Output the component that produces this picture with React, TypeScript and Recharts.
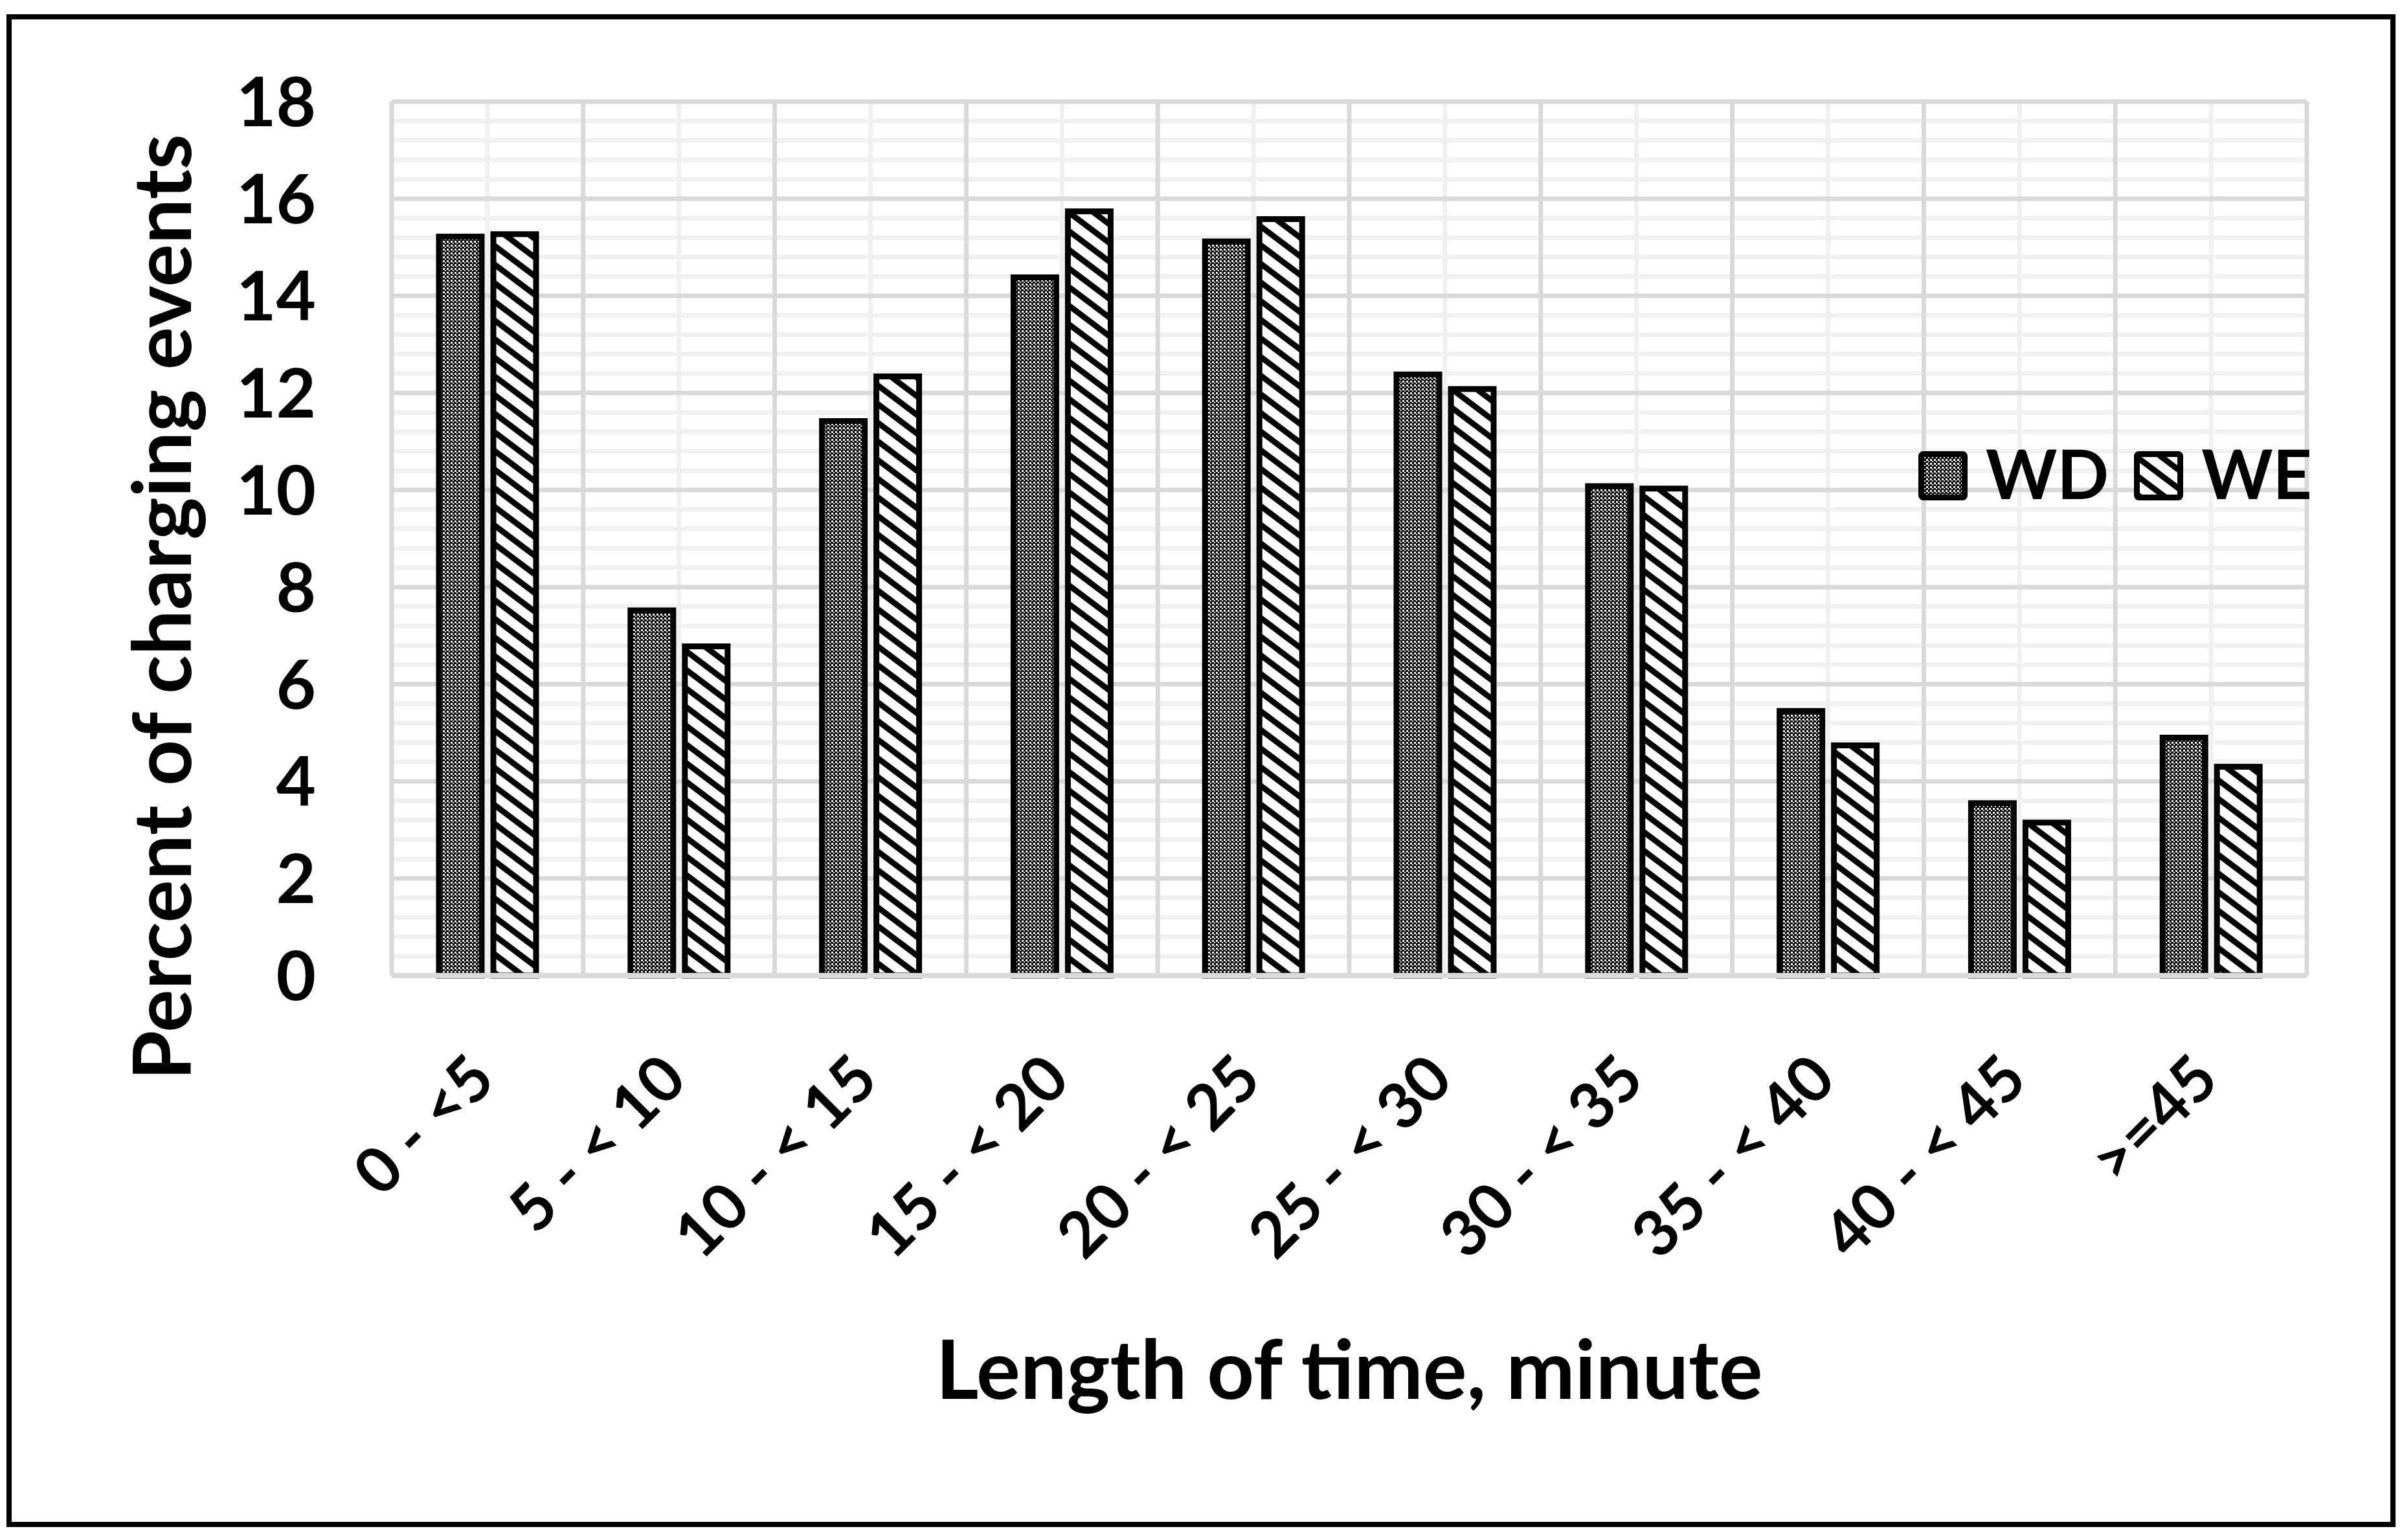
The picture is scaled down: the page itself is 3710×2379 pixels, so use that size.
import { BarChart, Bar, XAxis, YAxis, CartesianGrid, Legend } from 'recharts';

// Charging duration bins (minutes)
const categories = [
  '0 - <5',
  '5 - < 10',
  '10 - < 15',
  '15 - < 20',
  '20 - < 25',
  '25 - < 30',
  '30 - < 35',
  '35 - < 40',
  '40 - < 45',
  '>=45',
];

// Percent of charging events, weekday / weekend
const wdValues = [15.22, 7.52, 11.42, 14.38, 15.12, 12.38, 10.08, 5.45, 3.55, 4.9];
const weValues = [15.27, 6.78, 12.34, 15.74, 15.58, 12.08, 10.03, 4.74, 3.15, 4.3];

const yTicks = [0, 2, 4, 6, 8, 10, 12, 14, 16, 18];
const Y_MAX = 18;
const MINOR_STEP = 0.4;

const FONT = 'Lato, "Open Sans", sans-serif';

const data = categories.map((name, i) => ({ name, WD: wdValues[i], WE: weValues[i] }));

// minor gridlines every 0.4, skipping the major ones
const minorYValues = Array.from({ length: Math.round(Y_MAX / MINOR_STEP) + 1 }, (_, i) =>
  Number((i * MINOR_STEP).toFixed(1))
).filter(v => v % 2 !== 0);

const yPos = (props: any, v: number) => {
  const { yAxis, offset } = props;
  if (yAxis && typeof yAxis.scale === 'function') return yAxis.scale(v);
  return offset.top + offset.height * (1 - v / Y_MAX);
};

const minorHorizontal = (props: any) => minorYValues.map(v => yPos(props, v));
const majorHorizontal = (props: any) => yTicks.map(v => yPos(props, v));
// light lines through the middle of each category, darker ones on the boundaries
const minorVertical = ({ offset }: any) =>
  categories.map((_, i) => offset.left + (offset.width * (i + 0.5)) / categories.length);
const majorVertical = ({ offset }: any) =>
  [...categories.map((_, i) => i), categories.length].map(
    i => offset.left + (offset.width * i) / categories.length
  );

const XTick = ({ x, y, payload }: any) => {
  const ax = x + 16;
  const ay = y + 165;
  return (
    <text
      x={ax}
      y={ay}
      transform={`rotate(-45, ${ax}, ${ay})`}
      textAnchor="end"
      fontFamily={FONT}
      fontWeight={700}
      fontSize={98}
      fill="#000"
    >
      {payload.value}
    </text>
  );
};

const YTitle = ({ viewBox }: any) => {
  const x = 295;
  const y = viewBox.y + viewBox.height / 2 + 106;
  return (
    <text
      x={x}
      y={y}
      transform={`rotate(-90, ${x}, ${y})`}
      textAnchor="middle"
      fontFamily={FONT}
      fontWeight={700}
      fontSize={124}
      fill="#000"
    >
      Percent of charging events
    </text>
  );
};

const XTitle = ({ viewBox }: any) => (
  <text
    x={viewBox.x + viewBox.width / 2}
    y={viewBox.y + 654}
    textAnchor="middle"
    fontFamily={FONT}
    fontWeight={700}
    fontSize={127}
    fill="#000"
  >
    Length of time, minute
  </text>
);

const PatternDefs = ({ suffix }: { suffix: string }) => (
  <defs>
    <pattern id={`wd${suffix}`} patternUnits="userSpaceOnUse" width={6} height={6}>
      <rect width={6} height={6} fill="#000" />
      <rect x={0} y={0} width={3} height={3} fill="#fff" />
      <rect x={3} y={3} width={2} height={2} fill="#fff" />
    </pattern>
    <pattern
      id={`we${suffix}`}
      patternUnits="userSpaceOnUse"
      width={23}
      height={23}
      patternTransform="rotate(37)"
    >
      <rect width={23} height={23} fill="#fff" />
      <rect width={23} height={9} fill="#000" />
    </pattern>
  </defs>
);

const LegendContent = ({ payload }: any) => (
  <div style={{ display: 'flex', alignItems: 'center' }}>
    {(payload || []).map((entry: any, i: number) => {
      const key = entry.dataKey === 'WD' ? 'wd' : 'we';
      return (
        <div key={entry.value} style={{ display: 'flex', alignItems: 'center', marginRight: i === 0 ? 39 : 0 }}>
          <svg width={76} height={76}>
            <PatternDefs suffix="Legend" />
            <rect x={4.5} y={4.5} width={67} height={67} rx={3} fill={`url(#${key}Legend)`} stroke="#000" strokeWidth={9} />
          </svg>
          <span
            style={{
              marginLeft: 28,
              fontFamily: FONT,
              fontWeight: 700,
              fontSize: 105,
              lineHeight: '76px',
              position: 'relative',
              top: -5,
              color: '#000',
            }}
          >
            {entry.value}
          </span>
        </div>
      );
    })}
  </div>
);

export default function App() {
  return (
    <div style={{ position: 'absolute', left: 0, top: 0, width: 3710, height: 2379, background: '#fff' }}>
      <div
        style={{
          position: 'absolute',
          left: 10,
          top: 22,
          width: 3690,
          height: 2337,
          border: '8px solid #000',
          boxSizing: 'border-box',
        }}
      />
      <div style={{ position: 'absolute', left: 0, top: 0 }}>
        <BarChart
          width={3710}
          height={2379}
          data={data}
          margin={{ top: 157, right: 147, bottom: 0, left: 0 }}
          barGap={18}
          barSize={66}
        >
          <PatternDefs suffix="Bar" />
          <CartesianGrid
            stroke="#f0f0f0"
            strokeWidth={7}
            horizontalCoordinatesGenerator={minorHorizontal}
            verticalCoordinatesGenerator={minorVertical}
          />
          <CartesianGrid
            stroke="#d9d9d9"
            strokeWidth={7}
            horizontalCoordinatesGenerator={majorHorizontal}
            verticalCoordinatesGenerator={majorVertical}
          />
          <XAxis
            dataKey="name"
            interval={0}
            height={872}
            tickLine={false}
            tickSize={0}
            tickMargin={0}
            axisLine={{ stroke: '#d9d9d9', strokeWidth: 8 }}
            tick={XTick}
            label={XTitle}
          />
          <YAxis
            width={605}
            domain={[0, Y_MAX]}
            ticks={yTicks}
            interval={0}
            tickLine={false}
            axisLine={false}
            tickSize={0}
            tickMargin={117}
            tick={{ fontFamily: FONT, fontWeight: 700, fontSize: 106, fill: '#000' }}
            label={YTitle}
          />
          <Legend
            layout="horizontal"
            align="center"
            verticalAlign="middle"
            content={LegendContent}
            wrapperStyle={{ left: 2963, top: 697, width: 700, height: 76 }}
          />
          <Bar
            dataKey="WD"
            name="WD"
            fill="url(#wdBar)"
            stroke="#000"
            strokeWidth={9}
            isAnimationActive={false}
          />
          <Bar
            dataKey="WE"
            name="WE"
            fill="url(#weBar)"
            stroke="#000"
            strokeWidth={9}
            isAnimationActive={false}
          />
        </BarChart>
      </div>
    </div>
  );
}
